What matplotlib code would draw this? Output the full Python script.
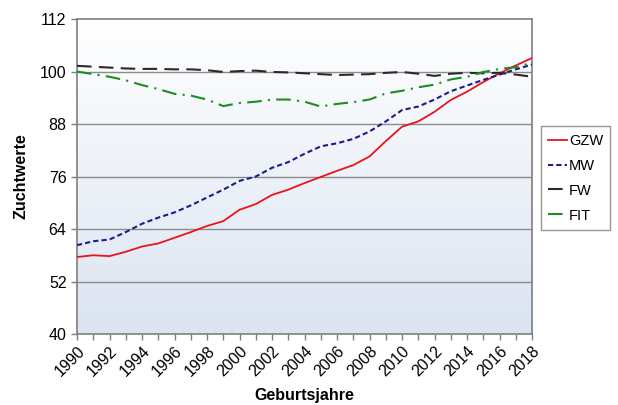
import numpy as np
import matplotlib
matplotlib.use("Agg")
import matplotlib.pyplot as plt
from matplotlib.colors import LinearSegmentedColormap

plt.rcParams['font.family'] = ['Liberation Sans', 'DejaVu Sans']

# Geburtsjahre
jahre = list(range(1990, 2019))

# Zuchtwerte je Merkmal
gzw = [57.6, 58.0, 57.8, 58.8, 60.0, 60.7, 62.0, 63.3, 64.7, 65.8,
       68.4, 69.7, 71.8, 73.0, 74.5, 75.9, 77.3, 78.6, 80.6, 84.1,
       87.4, 88.6, 90.8, 93.5, 95.4, 97.6, 99.6, 101.4, 103.1]
mw = [60.3, 61.2, 61.6, 63.3, 65.2, 66.6, 67.8, 69.4, 71.2, 73.0,
      75.0, 76.0, 78.0, 79.3, 81.2, 82.9, 83.6, 84.6, 86.3, 88.6,
      91.2, 92.0, 93.6, 95.5, 96.8, 98.1, 99.3, 100.5, 101.6]
fw = [101.3, 101.1, 100.9, 100.7, 100.6, 100.6, 100.5, 100.5, 100.3, 99.9,
      100.1, 100.2, 99.9, 99.8, 99.6, 99.4, 99.2, 99.3, 99.4, 99.7,
      99.9, 99.5, 99.0, 99.5, 99.7, 99.6, 99.7, 99.3, 98.8]
fit = [100.0, 99.4, 98.8, 98.0, 96.9, 96.0, 94.9, 94.5, 93.6, 92.1,
       92.8, 93.1, 93.6, 93.6, 93.1, 92.0, 92.6, 93.0, 93.6, 95.0,
       95.6, 96.4, 97.0, 98.2, 98.8, 99.9, 100.6, 101.0, 102.0]

y_ticks = [40, 52, 64, 76, 88, 100, 112]

fig = plt.figure(figsize=(6.18, 4.05), dpi=100)
ax = fig.add_axes([0.1246, 0.1753, 0.7364, 0.7777])

# Hintergrund mit Verlauf
cmap = LinearSegmentedColormap.from_list('bg', ['#dbe4f1', '#ffffff'])
grad = np.linspace(0, 1, 256).reshape(-1, 1)
ax.imshow(grad, cmap=cmap, origin='lower', extent=[0, 1, 0, 1],
          transform=ax.transAxes, aspect='auto', zorder=0)

for y in y_ticks[1:-1]:
    ax.axhline(y, color='#8c8c8c', lw=1.0, zorder=1)

ax.plot(jahre, gzw, color='#e8141c', lw=1.3, label='GZW', zorder=3)
ax.plot(jahre, mw, color='#1c1c8c', lw=1.5, ls=(0, (2.5, 1.5)), label='MW', zorder=3)
ax.plot(jahre, fw, color='#2a2a2a', lw=1.5, ls=(0, (7, 3.5)), label='FW', zorder=3)
ax.plot(jahre, fit, color='#1e8c1e', lw=1.5, ls=(0, (7, 3, 1, 3)), label='FIT', zorder=3)

ax.set_xlim(1990, 2018)
ax.set_ylim(40, 112)
ax.set_yticks(y_ticks)
ax.set_xticks(range(1990, 2019, 2))
ax.set_xticks(jahre, minor=True)
ax.set_xticklabels([str(j) for j in range(1990, 2019, 2)], rotation=45,
                   ha='right', va='top', rotation_mode='anchor')
ax.tick_params(axis='both', labelsize=11.5, color='#7f7f7f', length=4, width=1)
ax.tick_params(axis='x', which='minor', length=4, color='#7f7f7f', width=1)
ax.tick_params(axis='x', pad=3)

for s in ax.spines.values():
    s.set_color('#7f7f7f')
    s.set_linewidth(1.2)

ax.set_xlabel('Geburtsjahre', fontsize=11.5, fontweight='bold', labelpad=6)
ax.set_ylabel('Zuchtwerte', fontsize=11.5, fontweight='bold', labelpad=8)

leg = ax.legend(loc='center left', bbox_to_anchor=(1.02, 0.495), fontsize=10.5,
                frameon=True, fancybox=False, handlelength=1.3, handletextpad=0.1,
                labelspacing=0.75, borderpad=0.5, borderaxespad=0)
leg.get_frame().set_edgecolor('#7f7f7f')
leg.get_frame().set_linewidth(1.0)

fig.savefig('out.png', dpi=100)
